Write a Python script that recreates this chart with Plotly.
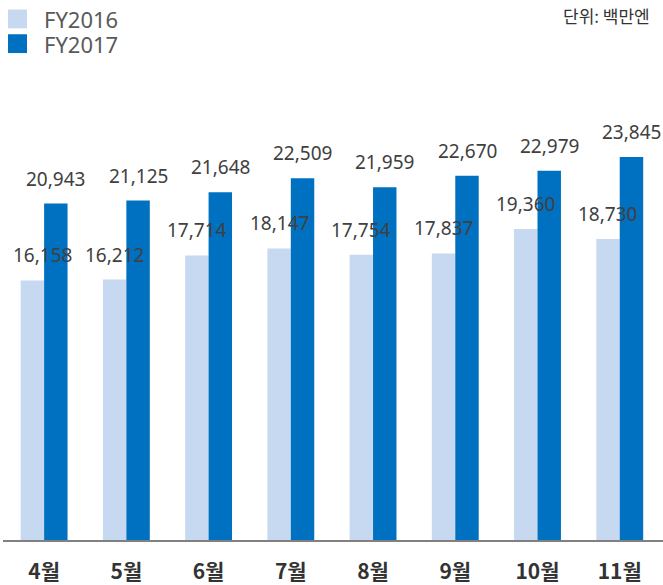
import plotly.graph_objects as go

months = ["4월", "5월", "6월", "7월", "8월", "9월", "10월", "11월"]
fy2016 = [16158, 16212, 17714, 18147, 17754, 17837, 19360, 18730]
fy2017 = [20943, 21125, 21648, 22509, 21959, 22670, 22979, 23845]
series_names = ["FY2016", "FY2017"]
colors = ["#c6d9f1", "#0070c0"]
unit_text = "단위: 백만엔"

W, H = 663, 585
ML, MR, MT, MB = 3, 0, 58, 40
PW, PH = W - ML - MR, H - MT - MB

fig = go.Figure()
for name, vals, col in zip(series_names, [fy2016, fy2017], colors):
    fig.add_trace(go.Bar(x=months, y=vals, name=name, marker=dict(color=col, line=dict(width=0)),
                         showlegend=False, hoverinfo="x+y"))

bar_px = PW / len(months) * 0.57 / 2
ann = []
for i, (m, a, b) in enumerate(zip(months, fy2016, fy2017)):
    ann.append(dict(x=m, y=a, xref="x", yref="y", text=f"{a:,}", showarrow=False,
                    xshift=-bar_px / 2 + (10 if i == 0 else 0), yshift=25, yanchor="middle",
                    font=dict(family="Noto Sans", size=19, color="#404040")))
    ann.append(dict(x=m, y=b, xref="x", yref="y", text=f"{b:,}", showarrow=False,
                    xshift=bar_px / 2, yshift=25, yanchor="middle",
                    font=dict(family="Noto Sans", size=19, color="#404040")))

def px_x(p):
    return (p - ML) / PW

def px_y(p):
    return (H - MB - p) / PH

shapes = []
for k, (name, col) in enumerate(zip(series_names, colors)):
    y0 = 9 + k * 25
    shapes.append(dict(type="rect", xref="paper", yref="paper",
                       x0=px_x(8), x1=px_x(27), y0=px_y(y0 + 19), y1=px_y(y0),
                       fillcolor=col, line=dict(width=0)))
    ann.append(dict(x=px_x(42), y=px_y(y0 + 9.5), xref="paper", yref="paper", text=name,
                    showarrow=False, xanchor="left", yanchor="middle",
                    font=dict(family="Noto Sans", size=22, color="#595959")))

ann.append(dict(x=px_x(652), y=px_y(15), xref="paper", yref="paper", text=unit_text,
                showarrow=False, xanchor="right", yanchor="middle",
                font=dict(family="Noto Sans CJK KR", size=17, color="#333333")))

fig.update_layout(
    width=W, height=H,
    margin=dict(l=ML, r=MR, t=MT, b=MB, pad=0),
    paper_bgcolor="white", plot_bgcolor="white",
    barmode="group", bargap=0.43, bargroupgap=0,
    xaxis=dict(showline=True, linecolor="#808080", linewidth=2, showgrid=False,
               ticks="", ticklabelstandoff=12,
               tickfont=dict(family="Noto Sans CJK KR", size=21, color="#333333", weight="bold")),
    yaxis=dict(range=[0, 30000], visible=False, showgrid=False),
    annotations=ann, shapes=shapes,
)

fig.write_html("out.html", config={"displayModeBar": False},
               post_script="document.body.style.margin='0';document.body.style.overflow='hidden';")
